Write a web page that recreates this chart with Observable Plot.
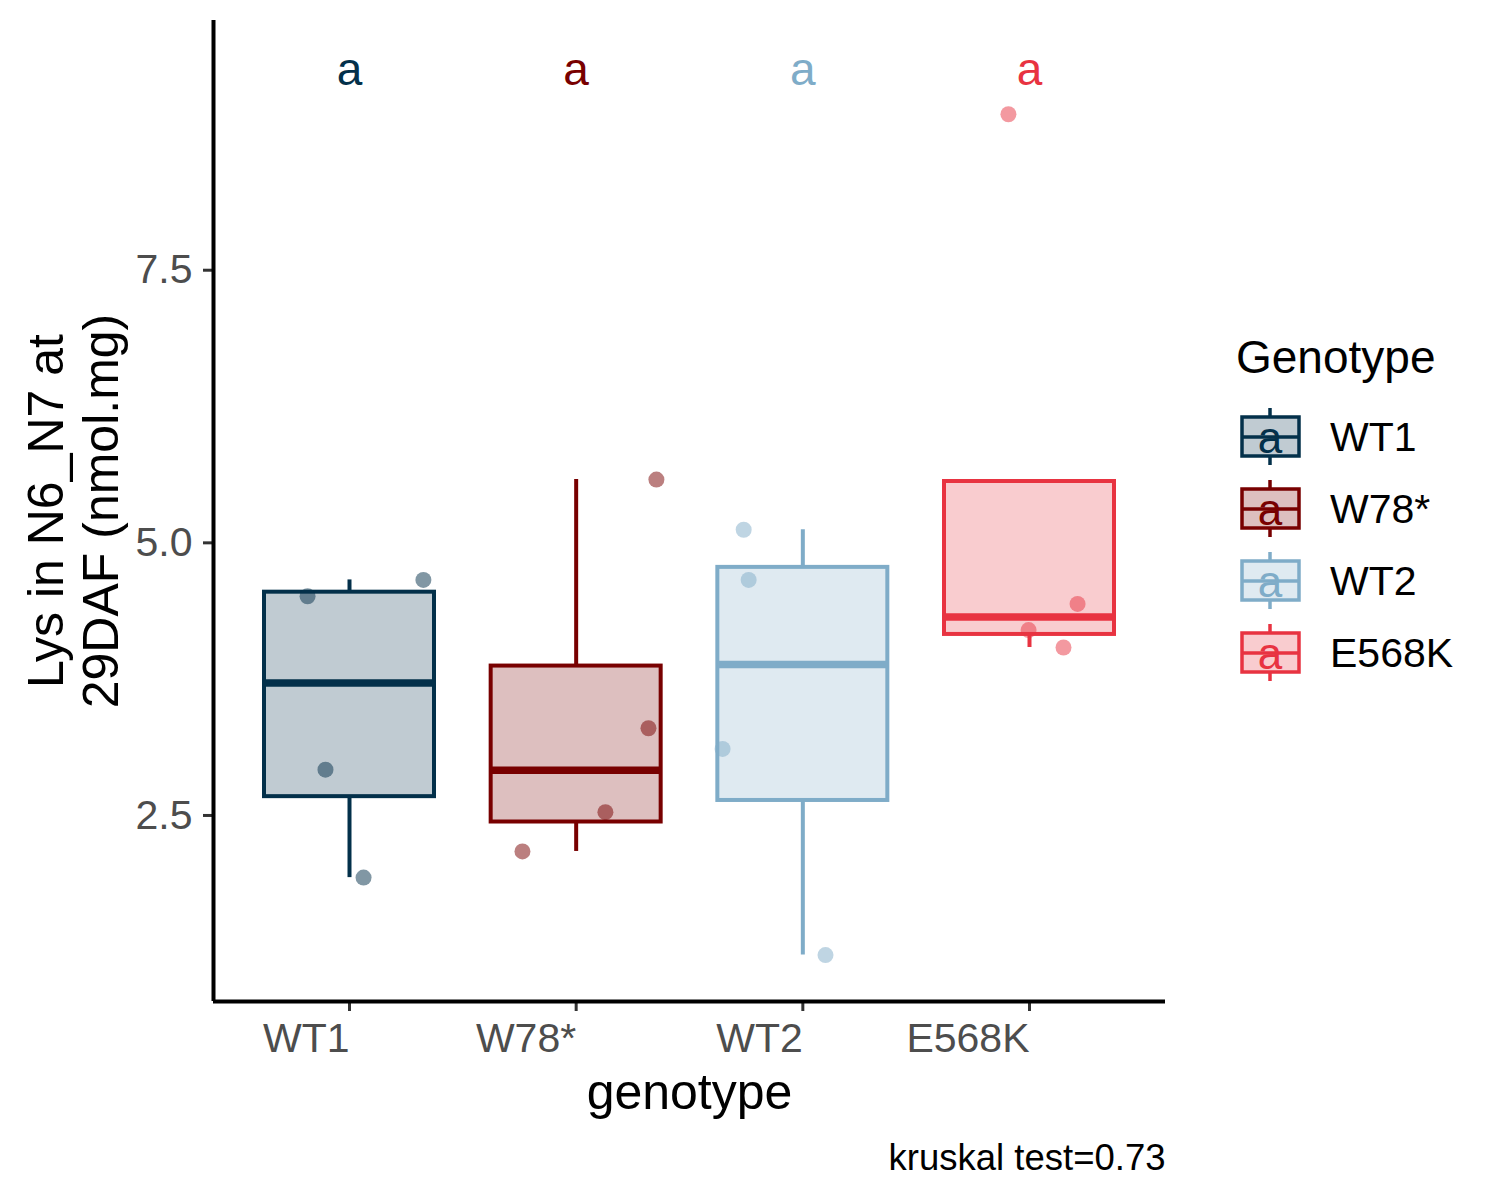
<!DOCTYPE html>
<html>
<head>
<meta charset="utf-8">
<script src="https://cdn.jsdelivr.net/npm/d3@7"></script>
<script src="https://cdn.jsdelivr.net/npm/@observablehq/plot@0.6"></script>
<style>
  body { margin: 0; background: #fff; font-family: "Liberation Sans", Arial, sans-serif; }
  #wrap { position: relative; width: 1500px; height: 1200px; }
</style>
</head>
<body>
<div id="wrap"></div>
<script>
// ---- data ----
const genotypes = ["WT1", "W78*", "WT2", "E568K"];
const colors = ["#03304A", "#780000", "#7FACC8", "#E83341"];
const letters = ["a", "a", "a", "a"];
const letterY = [9.33, 9.33, 9.33, 9.33];

const valuesWT1 = [4.51, 2.92, 1.93, 4.66];
const valuesW78 = [2.17, 2.53, 3.30, 5.58];
const valuesWT2 = [5.12, 4.66, 3.11, 1.22];
const valuesE568K = [8.93, 4.20, 4.04, 4.44];

const jitterWT1 = [-0.185, -0.106, 0.062, 0.326];
const jitterW78 = [-0.237, 0.129, 0.319, 0.354];
const jitterWT2 = [-0.261, -0.239, -0.354, 0.100];
const jitterE568K = [-0.093, -0.004, 0.150, 0.212];

const yTicks = [2.5, 5.0, 7.5];
const yTitle = "Lys in N6_N7 at\n29DAF (nmol.mg)";
const xTitle = "genotype";
const caption = "kruskal test=0.73";
const legendTitle = "Genotype";

// ---- derived tables ----
const seriesValues = [valuesWT1, valuesW78, valuesWT2, valuesE568K];
const seriesJitter = [jitterWT1, jitterW78, jitterWT2, jitterE568K];

const points = [];
seriesValues.forEach((vals, k) => {
  vals.forEach((v, j) => points.push({genotype: genotypes[k], i: k + 1, value: v, jitter: seriesJitter[k][j]}));
});

const stats = seriesValues.map((vals, k) => {
  const s = vals.slice().sort(d3.ascending);
  const q1 = d3.quantile(s, 0.25), median = d3.quantile(s, 0.5), q3 = d3.quantile(s, 0.75);
  const iqr = q3 - q1;
  const inside = s.filter(v => v >= q1 - 1.5 * iqr && v <= q3 + 1.5 * iqr);
  return {
    genotype: genotypes[k], i: k + 1, q1, median, q3,
    lower: Math.min(q1, d3.min(inside)),
    upper: Math.max(q3, d3.max(inside))
  };
});

const labels = genotypes.map((g, k) => ({genotype: g, i: k + 1, y: letterY[k], letter: letters[k]}));

// ---- styles ----
const FONT = "'Liberation Sans', Arial, Helvetica, sans-serif";
const boxHalf = 0.375;
const xDomain = [0.4, 4.6];
const yDomain = [0.794, 9.79];

const chart = Plot.plot({
  width: 1500,
  height: 1200,
  marginLeft: 213,
  marginRight: 335,
  marginTop: 20,
  marginBottom: 199,
  style: {fontFamily: FONT, background: "white", overflow: "visible"},
  x: {domain: xDomain, axis: null},
  y: {domain: yDomain, axis: null},
  color: {domain: genotypes, range: colors},
  marks: [
    Plot.ruleX(stats, {x: "i", y1: "q3", y2: "upper", stroke: "genotype", strokeWidth: 4}),
    Plot.ruleX(stats, {x: "i", y1: "lower", y2: "q1", stroke: "genotype", strokeWidth: 4}),
    Plot.rect(stats, {
      x1: d => d.i - boxHalf, x2: d => d.i + boxHalf, y1: "q1", y2: "q3",
      fill: "genotype", fillOpacity: 0.25, stroke: "genotype", strokeWidth: 4
    }),
    Plot.ruleY(stats, {y: "median", x1: d => d.i - boxHalf, x2: d => d.i + boxHalf, stroke: "genotype", strokeWidth: 7.5}),
    Plot.dot(points, {x: d => d.i + d.jitter, y: "value", r: 8, fill: "genotype", fillOpacity: 0.5, stroke: null}),
    Plot.text(labels, {x: "i", y: "y", text: "letter", fill: "genotype", fontSize: 46, lineAnchor: "middle"}),
    Plot.axisX({
      ticks: [1, 2, 3, 4], tickFormat: i => genotypes[i - 1], textAnchor: "end",
      tickSize: 10, tickPadding: 11, fontSize: 41, fill: "#4d4d4d", stroke: "#333333", strokeWidth: 3, label: null
    }),
    Plot.axisY({
      ticks: yTicks, tickFormat: d3.format(".1f"),
      tickSize: 10, tickPadding: 11, fontSize: 41, fill: "#4d4d4d", stroke: "#333333", strokeWidth: 3, label: null
    }),
    Plot.ruleX([xDomain[0]], {stroke: "black", strokeWidth: 4}),
    Plot.ruleY([yDomain[0]], {stroke: "black", strokeWidth: 4}),
    Plot.text([xTitle], {text: d => d, frameAnchor: "bottom", dy: 107, lineAnchor: "bottom", fontSize: 50, fill: "black"}),
    Plot.text([yTitle], {text: d => d, frameAnchor: "left", dx: -141, rotate: -90, textAnchor: "middle", lineAnchor: "middle", lineHeight: 1.1, fontSize: 50, fill: "black"}),
    Plot.text([caption], {text: d => d, frameAnchor: "bottom-right", dy: 168, textAnchor: "end", lineAnchor: "bottom", fontSize: 36.5, fill: "black"})
  ]
});

const wrap = document.getElementById("wrap");
chart.style.position = "absolute";
chart.style.left = "0px";
chart.style.top = "0px";
wrap.appendChild(chart);

// ---- legend ----
const leg = d3.select(wrap).append("svg")
  .attr("width", 280).attr("height", 400)
  .style("position", "absolute").style("left", "1220px").style("top", "320px")
  .style("font-family", FONT);

leg.append("text").attr("x", 16).attr("y", 53).attr("font-size", 46).attr("fill", "black").text(legendTitle);

genotypes.forEach((g, k) => {
  const cy = 117 + k * 72;
  const c = colors[k];
  const row = leg.append("g");
  row.append("line").attr("x1", 50).attr("x2", 50).attr("y1", cy - 29).attr("y2", cy + 28)
    .attr("stroke", c).attr("stroke-width", 3.5);
  row.append("rect").attr("x", 22).attr("y", cy - 20).attr("width", 57).attr("height", 39)
    .attr("fill", "white");
  row.append("rect").attr("x", 22).attr("y", cy - 20).attr("width", 57).attr("height", 39)
    .attr("fill", c).attr("fill-opacity", 0.25).attr("stroke", c).attr("stroke-width", 3.5);
  row.append("line").attr("x1", 22).attr("x2", 79).attr("y1", cy).attr("y2", cy)
    .attr("stroke", c).attr("stroke-width", 3.5);
  row.append("text").attr("x", 50).attr("y", cy + 16).attr("text-anchor", "middle")
    .attr("font-size", 44).attr("fill", c).text(letters[k]);
  row.append("text").attr("x", 110).attr("y", cy + 14).attr("font-size", 41).attr("fill", "black").text(g);
});
</script>
</body>
</html>
